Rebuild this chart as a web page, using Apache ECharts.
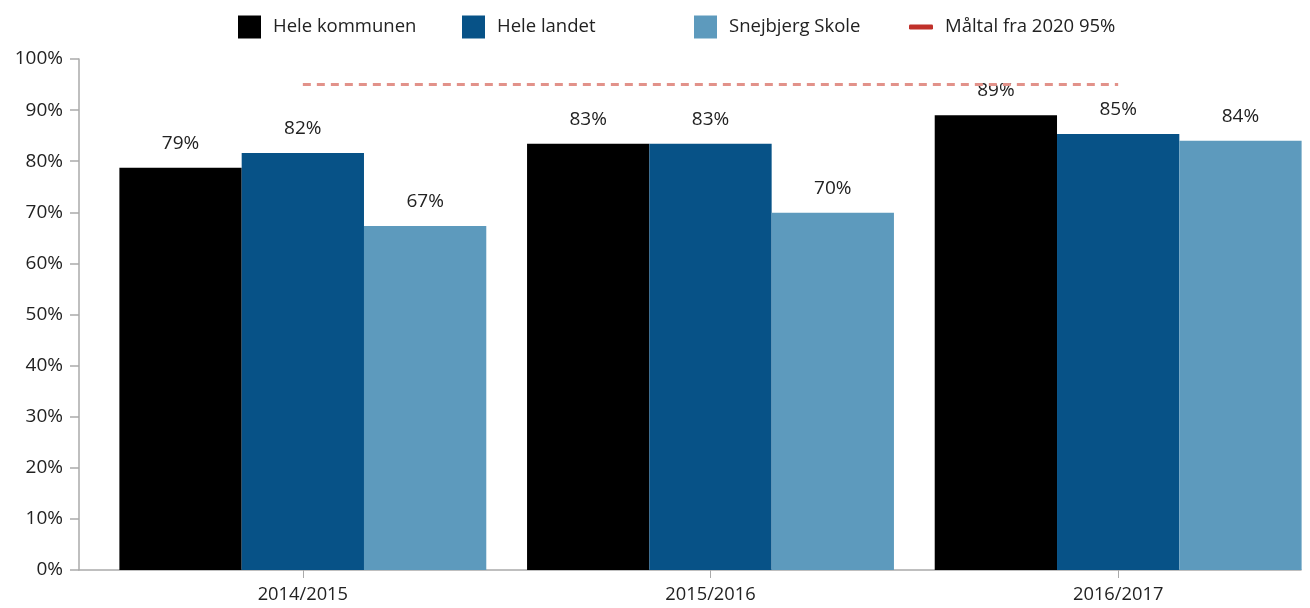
<!DOCTYPE html>
<html>
<head>
<meta charset="utf-8">
<script src="https://cdn.jsdelivr.net/npm/echarts@6/dist/echarts.min.js"></script>
<style>html,body{margin:0;padding:0;background:#fff}#c{width:1310px;height:608px}</style>
</head>
<body>
<div id="c"></div>
<script>
var categories = ['2014/2015', '2015/2016', '2016/2017'];
var heleKommunen = [78.7, 83.4, 89.0];
var heleLandet = [81.6, 83.4, 85.3];
var snejbjerg = [67.3, 69.9, 84.0];
var maltal = [95, 95, 95];
var seriesNames = ['Hele kommunen', 'Hele landet', 'Snejbjerg Skole', 'Måltal fra 2020 95%'];

var FONT = '"Open Sans", "Noto Sans", sans-serif';
var TXT = '#222';
var chart = echarts.init(document.getElementById('c'), null, {renderer: 'canvas'});

function barLabel() {
  return {
    show: true, position: 'top', distance: 15,
    color: TXT, fontFamily: FONT, fontSize: 19,
    formatter: function (p) { return Math.round(p.value) + '%'; }
  };
}
function legend(name, left, isLine) {
  return {
    data: [isLine ? {name: name, icon: 'roundRect'} : {name: name, icon: 'rect'}],
    left: left, top: 10, padding: 0,
    itemWidth: isLine ? 24 : 23, itemHeight: isLine ? 5 : 23,
    textStyle: {color: TXT, fontFamily: FONT, fontSize: 18.5, lineHeight: 23, padding: [11, 0, 0, 7]},
    selectedMode: false
  };
}

chart.setOption({
  animation: false,
  legend: [
    legend(seriesNames[0], 238, false),
    legend(seriesNames[1], 462, false),
    legend(seriesNames[2], 694, false),
    legend(seriesNames[3], 909, true)
  ],
  grid: [
    {left: 99, right: -12, top: 59, bottom: 38, containLabel: false, outerBoundsMode: 'none'},
    {left: 79, right: 9, top: 59, bottom: 38, containLabel: false, outerBoundsMode: 'none'}
  ],
  xAxis: [
    {
      type: 'category', gridIndex: 0, data: categories,
      axisLine: {show: false},
      axisTick: {show: true, alignWithLabel: true, length: 8, lineStyle: {color: '#aaa'}},
      axisLabel: {color: TXT, fontFamily: FONT, fontSize: 18.3, margin: 16}
    },
    {
      type: 'value', gridIndex: 1, min: 0, max: 1,
      axisLine: {show: true, lineStyle: {color: '#aaa', width: 1.5}},
      axisTick: {show: false}, axisLabel: {show: false}, splitLine: {show: false}
    }
  ],
  yAxis: [
    {
      type: 'value', gridIndex: 0, min: 0, max: 100, interval: 10, offset: 20,
      axisLine: {show: true, lineStyle: {color: '#aaa', width: 1.5}},
      axisTick: {show: true, length: 9, lineStyle: {color: '#aaa', width: 1.5}},
      axisLabel: {color: TXT, fontFamily: FONT, fontSize: 19, margin: 16, formatter: '{value}%'},
      splitLine: {show: false}
    },
    {type: 'value', gridIndex: 1, show: false, min: 0, max: 1}
  ],
  series: [
    {name: seriesNames[0], type: 'bar', xAxisIndex: 0, yAxisIndex: 0, data: heleKommunen,
     barGap: '0%', barCategoryGap: '10%', itemStyle: {color: '#000000'}, label: barLabel()},
    {name: seriesNames[1], type: 'bar', xAxisIndex: 0, yAxisIndex: 0, data: heleLandet,
     itemStyle: {color: '#075287'}, label: barLabel()},
    {name: seriesNames[2], type: 'bar', xAxisIndex: 0, yAxisIndex: 0, data: snejbjerg,
     itemStyle: {color: '#5D9ABD'}, label: barLabel()},
    {name: seriesNames[3], type: 'line', xAxisIndex: 0, yAxisIndex: 0, data: maltal,
     symbol: 'none', color: '#C0302A', z: 5,
     lineStyle: {color: '#E2928A', width: 3, type: [8, 6]}}
  ]
});
</script>
</body>
</html>
